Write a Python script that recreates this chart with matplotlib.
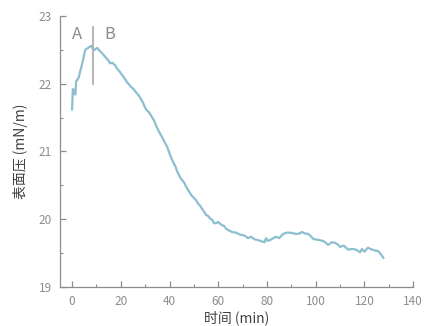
import matplotlib.pyplot as plt
from matplotlib.ticker import MultipleLocator

plt.rcParams['font.family'] = ['Noto Sans CJK SC', 'DejaVu Sans']

# 时间 (min) 和 表面压 (mN/m)
time_min = [0, 0.3, 0.6, 1.0, 1.3, 1.7, 2.2, 2.8, 3.3, 3.9, 4.5, 5.0, 5.4, 6.2, 7.0, 7.8,
            8.6, 9.3, 10.3, 11.2, 12.3, 13.0, 14.0, 15.0, 15.6, 16.5, 17.7, 18.5, 19.5,
            20.5, 21.5, 22.6, 23.4, 24.2, 25.3, 26.3, 27.5, 28.3, 29.1, 29.8, 30.4, 31.5,
            32.6, 33.7, 34.5, 35.3, 36.3, 37.4, 38.2, 39.0, 39.6, 40.2, 40.9, 41.5, 42.4,
            43.2, 44.3, 45.1, 46.0, 46.8, 47.6, 48.5, 49.3, 50.1, 50.9, 51.7, 52.5, 53.4,
            54.2, 55.0, 55.8, 56.6, 57.5, 58.3, 59.1, 60.0, 60.8, 61.6, 62.4, 63.2, 64.0,
            65.7, 67.3, 69.0, 70.6, 72.2, 73.5, 75.0, 76.5, 78.0, 79.0, 79.6, 80.4, 81.2,
            82.1, 83.7, 85.0, 86.6, 88.0, 89.5, 91.0, 92.0, 93.5, 94.4, 95.5, 97.0, 98.0,
            98.9, 100.0, 101.8, 103.5, 105.1, 106.7, 108.0, 109.3, 110.0, 111.5, 113.3,
            115.0, 116.6, 118.2, 119.0, 120.0, 121.5, 122.5, 124.0, 125.5, 126.4, 127.2, 127.8]
pressure = [21.62, 21.92, 21.86, 21.90, 21.84, 22.04, 22.06, 22.10, 22.18, 22.26, 22.35, 22.44,
            22.50, 22.52, 22.54, 22.56, 22.51, 22.50, 22.53, 22.49, 22.45, 22.42, 22.38, 22.34,
            22.30, 22.31, 22.27, 22.22, 22.18, 22.13, 22.08, 22.02, 21.99, 21.95, 21.92, 21.87,
            21.82, 21.77, 21.72, 21.66, 21.62, 21.58, 21.52, 21.45, 21.38, 21.32, 21.25, 21.18,
            21.12, 21.07, 21.01, 20.95, 20.89, 20.84, 20.78, 20.70, 20.62, 20.58, 20.54, 20.48,
            20.43, 20.38, 20.34, 20.31, 20.28, 20.23, 20.20, 20.15, 20.11, 20.06, 20.05, 20.01,
            19.99, 19.94, 19.94, 19.96, 19.93, 19.91, 19.90, 19.86, 19.84, 19.81, 19.80, 19.77,
            19.76, 19.72, 19.74, 19.70, 19.69, 19.67, 19.66, 19.72, 19.68, 19.69, 19.71, 19.74,
            19.72, 19.78, 19.80, 19.80, 19.79, 19.78, 19.79, 19.81, 19.79, 19.78, 19.75, 19.71,
            19.70, 19.69, 19.67, 19.62, 19.66, 19.65, 19.62, 19.59, 19.61, 19.55, 19.56, 19.55,
            19.51, 19.56, 19.52, 19.58, 19.56, 19.54, 19.53, 19.50, 19.46, 19.43]

split_time = 8.6
grey = '#8c8c8c'

fig = plt.figure(figsize=(4.25, 3.26), dpi=100)
ax = fig.add_axes([0.141, 0.12, 0.831, 0.831])

ax.plot(time_min, pressure, color='#8bbfcf', linewidth=1.6)
ax.plot([split_time, split_time], [22.0, 22.84], color='#b0b0b0', linewidth=1.3)
ax.text(2.0, 22.72, 'A', color=grey, fontsize=12, ha='center', va='center')
ax.text(15.6, 22.72, 'B', color=grey, fontsize=12, ha='center', va='center')

ax.set_xlim(-5, 140)
ax.set_ylim(19, 23)
ax.xaxis.set_major_locator(MultipleLocator(20))
ax.xaxis.set_minor_locator(MultipleLocator(10))
ax.yaxis.set_major_locator(MultipleLocator(1))
ax.yaxis.set_minor_locator(MultipleLocator(0.5))

for s in ['top', 'right']:
    ax.spines[s].set_visible(False)
for s in ['left', 'bottom']:
    ax.spines[s].set_color(grey)
    ax.spines[s].set_linewidth(0.9)

ax.tick_params(which='both', direction='in', color=grey, labelcolor=grey, labelsize=8.5)
ax.tick_params(which='major', length=4, width=0.9, pad=6)
ax.tick_params(which='minor', length=2, width=0.8)

ax.set_xlabel('时间 (min)', color='#404040', fontsize=10, va='center')
ax.set_ylabel('表面压 (mN/m)', color='#404040', fontsize=10, va='center')
ax.xaxis.set_label_coords(0.5, -0.114)
ax.yaxis.set_label_coords(-0.113, 0.5)

plt.savefig('out.png', dpi=100)
plt.close()
